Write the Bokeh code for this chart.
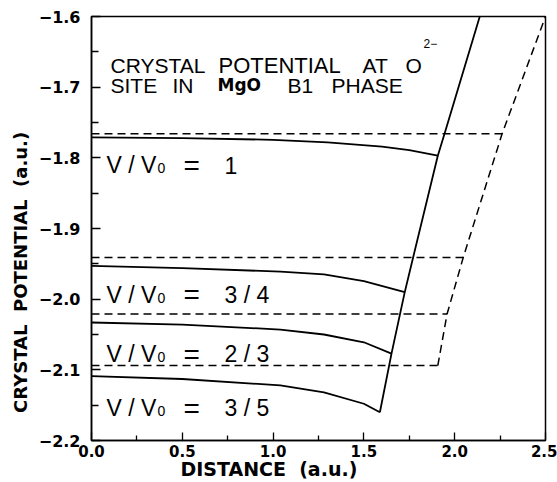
from bokeh.plotting import figure
from bokeh.models import FixedTicker, Label
from bokeh.embed import file_html
from bokeh.resources import INLINE

# ---------------- data ----------------
# solid crystal-potential curves, one per compression V/V0
x_v1 = [0.0, 0.5, 1.0, 1.3, 1.6, 1.75, 1.907]
y_v1 = [-1.771, -1.772, -1.7745, -1.778, -1.784, -1.789, -1.797]
x_v34 = [0.0, 0.5, 1.04, 1.28, 1.5, 1.725]
y_v34 = [-1.953, -1.956, -1.961, -1.965, -1.9745, -1.990]
x_v23 = [0.0, 0.5, 1.04, 1.28, 1.5, 1.652]
y_v23 = [-2.033, -2.036, -2.043, -2.050, -2.061, -2.077]
x_v35 = [0.0, 0.5, 1.04, 1.28, 1.5, 1.588]
y_v35 = [-2.109, -2.113, -2.122, -2.132, -2.148, -2.160]

# dashed constant levels and where they end
dash_levels = [-1.766, -1.941, -2.021, -2.094]
dash_ends = [2.261, 2.047, 1.958, 1.907]

# solid boundary line (ends of solid curves)
bound_x = [1.588, 1.652, 1.725, 1.771, 1.907, 1.944, 2.138]
bound_y = [-2.160, -2.077, -1.990, -1.941, -1.797, -1.766, -1.600]
# dashed boundary line (ends of dashed levels)
free_x = [1.907, 1.958, 2.047, 2.261, 2.500]
free_y = [-2.094, -2.021, -1.941, -1.766, -1.600]

ratio_labels = ["1", "3 / 4", "2 / 3", "3 / 5"]

x_ticks = [0.0, 0.5, 1.0, 1.5, 2.0, 2.5]
x_minor = [0.25, 0.75, 1.25, 1.75, 2.25]
x_tick_labels = ["0.0", "0.5", "1.0", "1.5", "2.0", "2.5"]
y_ticks = [-2.2, -2.1, -2.0, -1.9, -1.8, -1.7, -1.6]
y_minor = [-2.15, -2.05, -1.95, -1.85, -1.75, -1.65]
y_tick_labels = ["\u22122.2", "\u22122.1", "\u22122.0", "\u22121.9",
                 "\u22121.8", "\u22121.7", "\u22121.6"]

# ---------------- figure ----------------
p = figure(width=557, height=482,
           min_border_left=91, min_border_right=12,
           min_border_top=16, min_border_bottom=42,
           x_range=(0, 2.5), y_range=(-2.2, -1.6),
           output_backend="svg", toolbar_location=None)
p.background_fill_color = "white"
p.border_fill_color = "white"
p.outline_line_color = "black"
p.outline_line_width = 1.5
p.xgrid.visible = False
p.ygrid.visible = False

BOLD_FONT = "DejaVu Sans"
NB = "\u00a0"
for ax in (p.xaxis[0], p.yaxis[0]):
    ax.axis_line_color = "black"
    ax.axis_line_width = 1.5
    ax.major_tick_line_color = "black"
    ax.minor_tick_line_color = "black"
    ax.major_tick_line_width = 1.3
    ax.minor_tick_line_width = 1.3
    ax.major_tick_out = 0
    ax.minor_tick_out = 0
    ax.major_label_text_font = BOLD_FONT
    ax.major_label_text_font_style = "bold"
    ax.major_label_text_color = "black"
    ax.axis_label_text_font = BOLD_FONT
    ax.axis_label_text_font_style = "bold"
    ax.axis_label_text_color = "black"

p.xaxis.ticker = FixedTicker(ticks=x_ticks, minor_ticks=x_minor)
p.xaxis.major_label_overrides = dict(zip(x_ticks, x_tick_labels))
p.xaxis.major_tick_in = 8
p.xaxis.minor_tick_in = 5
p.xaxis.major_label_text_font_size = "15px"
p.xaxis.major_label_standoff = 4
# trailing no-break spaces shift the centred title to the left, as in the reference
p.xaxis.axis_label = "DISTANCE" + NB * 2 + "(a.u.)" + NB * 15
p.xaxis.axis_label_text_font_size = "19px"
p.xaxis.axis_label_standoff = -2

p.yaxis.ticker = FixedTicker(ticks=y_ticks, minor_ticks=y_minor)
p.yaxis.major_label_overrides = dict(zip(y_ticks, y_tick_labels))
p.yaxis.major_tick_in = 9
p.yaxis.minor_tick_in = 7
p.yaxis.major_label_text_font_size = "16px"
p.yaxis.major_label_standoff = 11
p.yaxis.axis_label = "CRYSTAL" + NB * 2 + "POTENTIAL" + NB * 2 + "(a.u.)" + NB * 14
p.yaxis.axis_label_text_font_size = "18px"
p.yaxis.axis_label_standoff = 5

# ---------------- lines ----------------
for xs, ys in [(x_v1, y_v1), (x_v34, y_v34), (x_v23, y_v23), (x_v35, y_v35)]:
    p.line(xs, ys, line_color="black", line_width=1.8)

p.line(bound_x, bound_y, line_color="black", line_width=1.8)
p.line(free_x, free_y, line_color="black", line_width=1.5, line_dash="8 5")
p.segment(x0=[0.0] * len(dash_levels), y0=dash_levels,
          x1=dash_ends, y1=dash_levels,
          line_color="black", line_width=1.5, line_dash="8 5")

# ---------------- texts ----------------
def add_label(text, x, y, size, font="Liberation Sans", style="normal"):
    p.add_layout(Label(x=x, y=y, text=text, text_font=font,
                       text_font_size=size, text_font_style=style,
                       text_align="left", text_baseline="alphabetic",
                       text_color="black"))

# title block
T = "21px"
add_label("CRYSTAL", 0.1046, -1.6693, T)
add_label("POTENTIAL", 0.6993, -1.6693, "22px")
add_label("AT", 1.4923, -1.6693, T)
add_label("O", 1.7291, -1.6693, T)
add_label("2\u2212", 1.8282, -1.6382, "12px")
add_label("SITE", 0.1046, -1.6976, T)
add_label("IN", 0.4460, -1.6976, T)
add_label("MgO", 0.6938, -1.6976, "17px", font="DejaVu Sans", style="bold")
add_label("B1", 1.0793, -1.6976, T)
add_label("PHASE", 1.3216, -1.6976, T)

# V/V0 labels
label_base = [-1.8108, -1.9934, -2.0783, -2.1547]
for txt, yb in zip(ratio_labels, label_base):
    add_label("V / V", 0.0826, yb, "23px")
    add_label("0", 0.3634, yb - 3.0 / 706.67, "14px")
    add_label("=", 0.5066, yb, "28px")
    add_label(txt, 0.7324, yb, "23px")

open("out.html", "w").write(file_html(p, INLINE))
